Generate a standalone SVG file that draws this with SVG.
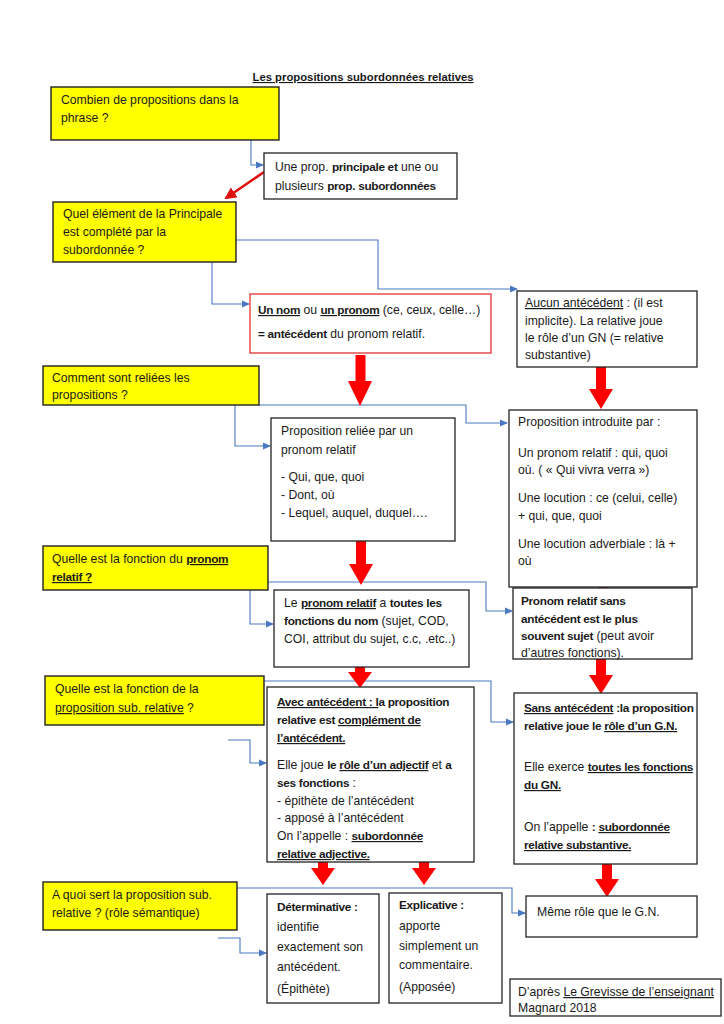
<svg xmlns="http://www.w3.org/2000/svg" width="724" height="1024" viewBox="0 0 724 1024">
<style>
text{font-family:'Liberation Sans',Arial,sans-serif;font-size:12.2px;fill:#1a1a1a}
.b{font-weight:bold;font-size:11.8px;letter-spacing:-0.3px}
.u{text-decoration:underline}
.title{font-weight:bold;font-size:11.3px;text-decoration:underline}
.q{fill:#ffff00;stroke:#222;stroke-width:1.4}
.w{fill:#fff;stroke:#222;stroke-width:1.3}
.r{fill:#fff;stroke:#e03535;stroke-width:1.3}
.c{fill:none;stroke:#4a78c2;stroke-width:1.1}
.big{fill:#ff0000}
</style>
<defs>
<marker id="ah" markerWidth="8" markerHeight="8" refX="7" refY="4" orient="auto" markerUnits="userSpaceOnUse">
<path d="M0,0.5 L8,4 L0,7.5 Z" fill="#4a78c2"/>
</marker>
<marker id="rh" markerWidth="12" markerHeight="12" refX="10" refY="6" orient="auto" markerUnits="userSpaceOnUse">
<path d="M0,0 L12,6 L0,12 Z" fill="#e01010"/>
</marker>
</defs>
<rect width="724" height="1024" fill="#fff"/>
<text x="363" y="81" text-anchor="middle" class="title">Les propositions subordonnées relatives</text>

<g id="connectors">
<polyline class="c" points="251,140 251,165 263,165" marker-end="url(#ah)"/>
<line x1="264" y1="172" x2="226" y2="198" stroke="#e01010" stroke-width="2.6" marker-end="url(#rh)"/>
<polyline class="c" points="212,262 212,304 249,304" marker-end="url(#ah)"/>
<polyline class="c" points="236,240 378,240 378,289 517,289" marker-end="url(#ah)"/>
<polyline class="c" points="259,405 466,405 466,423 507,423" marker-end="url(#ah)"/>
<polyline class="c" points="235,405 235,446 270,446" marker-end="url(#ah)"/>
<polyline class="c" points="268,582 486,582 486,611 512,611" marker-end="url(#ah)"/>
<polyline class="c" points="250,590 250,624 273,624" marker-end="url(#ah)"/>
<polyline class="c" points="264,681 491,681 491,722 513,722" marker-end="url(#ah)"/>
<polyline class="c" points="228,740 250,740 250,763 266,763" marker-end="url(#ah)"/>
<polyline class="c" points="237,888 512,888 512,913 525,913" marker-end="url(#ah)"/>
<polyline class="c" points="218,938 240,938 240,953 266,953" marker-end="url(#ah)"/>
<path class="big" d="M355.5,355 H365.5 V381 H372 L360,406 L348,381 H355.5 Z"/>
<path class="big" d="M596,367 H606 V389 H613 L601,409 L589,389 H596 Z"/>
<path class="big" d="M356,541 H366 V564 H373 L361,585 L349,564 H356 Z"/>
<path class="big" d="M598,587 H608 V594 H615 L603,613 L591,594 H598 Z"/>
<path class="big" d="M355,667 H365 V672 H372 L360,688 L348,672 H355 Z"/>
<path class="big" d="M596,659 H606 V675 H613 L601,694 L589,675 H596 Z"/>
<path class="big" d="M318,862 H328 V868 H335 L323,885 L311,868 H318 Z"/>
<path class="big" d="M419,862 H429 V868 H436 L424,885 L412,868 H419 Z"/>
<path class="big" d="M602,864 H612 V879 H619 L607,897 L595,879 H602 Z"/>
</g>

<g id="q1">
<rect class="q" x="51" y="87" width="228" height="53"/>
<text x="61" y="104">Combien de propositions dans la</text>
<text x="61" y="122">phrase ?</text>
</g>
<g id="n1">
<rect class="w" x="264" y="153" width="193" height="46"/>
<text x="275" y="171">Une prop. <tspan class="b">principale et</tspan> une ou</text>
<text x="275" y="190">plusieurs <tspan class="b">prop. subordonnées</tspan></text>
</g>

<g id="q2">
<rect class="q" x="53" y="202" width="183" height="60"/>
<text x="63" y="218">Quel élément de la Principale</text>
<text x="63" y="236">est complété par la</text>
<text x="63" y="254">subordonnée ?</text>
</g>
<g id="n2">
<rect class="r" x="250" y="294" width="241" height="59"/>
<text x="258" y="314"><tspan class="b u">Un nom</tspan> ou <tspan class="b u">un pronom</tspan> (ce, ceux, celle…)</text>
<text x="258" y="338"><tspan class="b">= antécédent</tspan> du pronom relatif.</text>
</g>
<g id="n3">
<rect class="w" x="517" y="291" width="180" height="76"/>
<text x="525" y="307"><tspan class="u">Aucun antécédent</tspan> : (il est</text>
<text x="525" y="325">implicite). La relative joue</text>
<text x="525" y="342">le rôle d’un GN (= relative</text>
<text x="525" y="359">substantive)</text>
</g>

<g id="q3">
<rect class="q" x="43" y="366" width="216" height="39"/>
<text x="52" y="382">Comment sont reliées les</text>
<text x="52" y="399">propositions ?</text>
</g>
<g id="n4">
<rect class="w" x="271" y="418" width="184" height="123"/>
<text x="281" y="435">Proposition reliée par un</text>
<text x="281" y="454">pronom relatif</text>
<text x="281" y="481">- Qui, que, quoi</text>
<text x="281" y="499">- Dont, où</text>
<text x="281" y="517">- Lequel, auquel, duquel….</text>
</g>
<g id="n5">
<rect class="w" x="509" y="410" width="188" height="177"/>
<text x="518" y="426">Proposition introduite par :</text>
<text x="518" y="457">Un pronom relatif : qui, quoi</text>
<text x="518" y="474">où. ( « Qui vivra verra »)</text>
<text x="518" y="502">Une locution : ce (celui, celle)</text>
<text x="518" y="520">+ qui, que, quoi</text>
<text x="518" y="548">Une locution adverbiale : là +</text>
<text x="518" y="565">où</text>
</g>

<g id="q4">
<rect class="q" x="43" y="546" width="225" height="44"/>
<text x="52" y="563">Quelle est la fonction du <tspan class="b u">pronom</tspan></text>
<text x="52" y="581"><tspan class="b u">relatif ?</tspan></text>
</g>
<g id="n6">
<rect class="w" x="274" y="590" width="195" height="77"/>
<text x="284" y="607">Le <tspan class="b u">pronom relatif</tspan> a <tspan class="b">toutes les</tspan></text>
<text x="284" y="625"><tspan class="b">fonctions du nom</tspan> (sujet, COD,</text>
<text x="284" y="643">COI, attribut du sujet, c.c, .etc..)</text>
</g>
<g id="n7">
<rect class="w" x="513" y="588" width="179" height="71"/>
<text x="521" y="605" class="b">Pronom relatif sans</text>
<text x="521" y="623" class="b">antécédent est le plus</text>
<text x="521" y="640"><tspan class="b">souvent sujet</tspan>  (peut avoir</text>
<text x="521" y="657">d’autres fonctions).</text>
</g>

<g id="q5">
<rect class="q" x="45" y="676" width="219" height="49"/>
<text x="55" y="693">Quelle est la fonction de la</text>
<text x="55" y="712"><tspan class="u">proposition sub. relative</tspan> ?</text>
</g>
<g id="n8">
<rect class="w" x="267" y="687" width="207" height="175"/>
<text x="277" y="706"><tspan class="b u">Avec antécédent : l</tspan><tspan class="b">a proposition</tspan></text>
<text x="277" y="724" class="b">relative est <tspan class="u">complément de</tspan></text>
<text x="277" y="742" class="b u">l’antécédent.</text>
<text x="277" y="769">Elle joue <tspan class="b">le </tspan><tspan class="b u">rôle d’un adjectif</tspan> et <tspan class="b">a</tspan></text>
<text x="277" y="787"><tspan class="b">ses fonctions</tspan> :</text>
<text x="277" y="805">- épithète de l’antécédent</text>
<text x="277" y="822">- apposé à l’antécédent</text>
<text x="277" y="840">On l’appelle : <tspan class="b u">subordonnée</tspan></text>
<text x="277" y="858" class="b u">relative adjective.</text>
</g>
<g id="n9">
<rect class="w" x="514" y="693" width="183" height="171"/>
<text x="524" y="712"><tspan class="b u">Sans antécédent</tspan><tspan class="b"> :la proposition</tspan></text>
<text x="524" y="730" class="b">relative joue le <tspan class="u">rôle d’un G.N.</tspan></text>
<text x="524" y="771">Elle exerce <tspan class="b u">toutes les fonctions</tspan></text>
<text x="524" y="789" class="b u">du GN.</text>
<text x="524" y="831">On l’appelle <tspan class="b">: </tspan><tspan class="b u">subordonnée</tspan></text>
<text x="524" y="849" class="b u">relative substantive.</text>
</g>

<g id="q6">
<rect class="q" x="43" y="882" width="194" height="48"/>
<text x="52" y="899">A quoi sert la proposition sub.</text>
<text x="52" y="917">relative ?  (rôle sémantique)</text>
</g>
<g id="n10">
<rect class="w" x="267" y="894" width="112" height="109"/>
<text x="277" y="911" class="b">Déterminative :</text>
<text x="277" y="931">identifie</text>
<text x="277" y="951">exactement son</text>
<text x="277" y="971">antécédent.</text>
<text x="277" y="993">(Épithète)</text>
</g>
<g id="n11">
<rect class="w" x="389" y="893" width="113" height="110"/>
<text x="399" y="909" class="b">Explicative :</text>
<text x="399" y="930">apporte</text>
<text x="399" y="950">simplement un</text>
<text x="399" y="969">commentaire.</text>
<text x="399" y="991">(Apposée)</text>
</g>
<g id="n12">
<rect class="w" x="526" y="896" width="171" height="41"/>
<text x="537" y="916">Même rôle que le G.N.</text>
</g>
<g id="source">
<rect class="w" x="510" y="979" width="211" height="37"/>
<text x="518" y="996">D’après <tspan class="u">Le Grevisse de l’enseignant</tspan></text>
<text x="518" y="1012">Magnard 2018</text>
</g>
</svg>
